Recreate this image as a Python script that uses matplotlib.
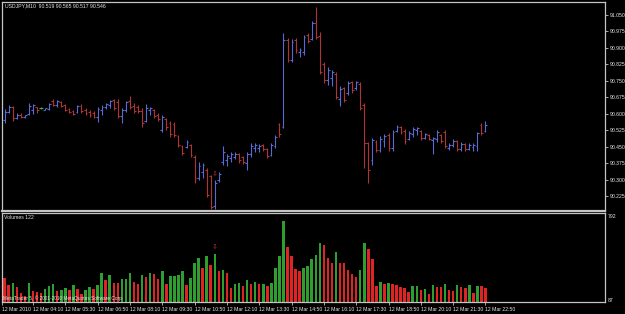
import matplotlib
import numpy as np

matplotlib.use('Agg')
import matplotlib.pyplot as plt

# USDJPY M10 bars, 12 Mar 2010 03:00 .. 22:50
opens = [
    90.571, 90.607, 90.630, 90.580, 90.593, 90.584, 90.598, 90.616, 90.630, 90.625,
    90.616, 90.621, 90.657, 90.639, 90.652, 90.639, 90.621, 90.611, 90.607, 90.634,
    90.616, 90.607, 90.602, 90.584, 90.616, 90.630, 90.639, 90.661, 90.652, 90.589,
    90.616, 90.657, 90.634, 90.630, 90.611, 90.566, 90.616, 90.616, 90.593, 90.525,
    90.575, 90.557, 90.552, 90.498, 90.452, 90.448, 90.457, 90.402, 90.307, 90.334,
    90.343, 90.316, 90.180, 90.298, 90.380, 90.389, 90.398, 90.402, 90.416, 90.402,
    90.375, 90.416, 90.443, 90.443, 90.457, 90.439, 90.412, 90.452, 90.552, 90.539,
    90.934, 90.843, 90.934, 90.880, 90.880, 90.957, 90.939, 91.011, 90.952, 90.825,
    90.752, 90.762, 90.780, 90.666, 90.716, 90.693, 90.743, 90.716, 90.734, 90.639,
    90.466, 90.389, 90.471, 90.434, 90.475, 90.502, 90.443, 90.521, 90.539, 90.521,
    90.484, 90.507, 90.525, 90.521, 90.489, 90.502, 90.480, 90.484, 90.502, 90.516,
    90.443, 90.457, 90.475, 90.439, 90.461, 90.439, 90.448, 90.452, 90.548, 90.519,
]
highs = [
    90.621, 90.639, 90.634, 90.602, 90.602, 90.593, 90.648, 90.643, 90.630, 90.630,
    90.625, 90.648, 90.666, 90.661, 90.657, 90.643, 90.625, 90.616, 90.639, 90.643,
    90.625, 90.616, 90.611, 90.630, 90.639, 90.648, 90.661, 90.666, 90.666, 90.625,
    90.657, 90.680, 90.648, 90.639, 90.625, 90.643, 90.630, 90.621, 90.602, 90.593,
    90.580, 90.566, 90.561, 90.502, 90.457, 90.480, 90.461, 90.412, 90.380, 90.375,
    90.352, 90.321, 90.298, 90.334, 90.452, 90.416, 90.425, 90.425, 90.421, 90.407,
    90.425, 90.466, 90.466, 90.461, 90.461, 90.443, 90.466, 90.502, 90.557, 90.966,
    90.943, 90.939, 90.943, 90.898, 90.957, 90.966, 91.021, 91.084, 90.971, 90.834,
    90.811, 90.798, 90.789, 90.725, 90.721, 90.748, 90.748, 90.748, 90.743, 90.648,
    90.471, 90.489, 90.480, 90.498, 90.507, 90.511, 90.525, 90.548, 90.543, 90.530,
    90.521, 90.539, 90.539, 90.525, 90.511, 90.507, 90.493, 90.525, 90.507, 90.525,
    90.466, 90.484, 90.480, 90.471, 90.466, 90.466, 90.466, 90.516, 90.557, 90.565,
]
lows = [
    90.557, 90.602, 90.566, 90.575, 90.580, 90.580, 90.593, 90.598, 90.602, 90.621,
    90.616, 90.616, 90.634, 90.630, 90.630, 90.611, 90.602, 90.593, 90.602, 90.602,
    90.593, 90.584, 90.580, 90.561, 90.593, 90.621, 90.625, 90.616, 90.580, 90.557,
    90.607, 90.621, 90.602, 90.602, 90.539, 90.561, 90.593, 90.580, 90.566, 90.516,
    90.525, 90.493, 90.493, 90.448, 90.412, 90.443, 90.402, 90.284, 90.298, 90.307,
    90.221, 90.166, 90.166, 90.289, 90.366, 90.361, 90.380, 90.393, 90.375, 90.371,
    90.343, 90.402, 90.425, 90.425, 90.430, 90.398, 90.407, 90.443, 90.493, 90.534,
    90.834, 90.834, 90.875, 90.857, 90.866, 90.921, 90.934, 90.939, 90.780, 90.739,
    90.730, 90.725, 90.666, 90.634, 90.652, 90.684, 90.693, 90.707, 90.616, 90.352,
    90.284, 90.366, 90.425, 90.425, 90.448, 90.430, 90.430, 90.516, 90.507, 90.461,
    90.480, 90.493, 90.502, 90.480, 90.484, 90.480, 90.416, 90.471, 90.466, 90.443,
    90.434, 90.448, 90.430, 90.430, 90.430, 90.434, 90.430, 90.430, 90.502, 90.517,
]
closes = [
    90.607, 90.630, 90.580, 90.593, 90.584, 90.593, 90.634, 90.639, 90.616, 90.625,
    90.625, 90.643, 90.639, 90.657, 90.634, 90.616, 90.607, 90.598, 90.634, 90.611,
    90.602, 90.593, 90.584, 90.621, 90.630, 90.643, 90.657, 90.625, 90.589, 90.616,
    90.652, 90.630, 90.611, 90.611, 90.557, 90.625, 90.625, 90.589, 90.575, 90.584,
    90.539, 90.507, 90.502, 90.457, 90.421, 90.471, 90.412, 90.307, 90.361, 90.366,
    90.230, 90.175, 90.284, 90.325, 90.425, 90.407, 90.416, 90.416, 90.389, 90.380,
    90.416, 90.452, 90.457, 90.452, 90.439, 90.407, 90.457, 90.493, 90.507, 90.934,
    90.843, 90.925, 90.889, 90.889, 90.948, 90.930, 91.011, 90.948, 90.789, 90.752,
    90.798, 90.789, 90.675, 90.711, 90.661, 90.739, 90.707, 90.743, 90.625, 90.466,
    90.343, 90.480, 90.434, 90.484, 90.498, 90.443, 90.516, 90.539, 90.516, 90.475,
    90.511, 90.530, 90.534, 90.489, 90.507, 90.484, 90.489, 90.516, 90.475, 90.452,
    90.457, 90.475, 90.439, 90.461, 90.439, 90.457, 90.457, 90.511, 90.511, 90.546,
]
volumes = [
    298, 235, 250, 217, 163, 142, 252, 183, 178, 165,
    200, 226, 244, 183, 191, 209, 191, 235, 200, 157,
    191, 217, 200, 235, 339, 278, 322, 252, 248, 287,
    290, 339, 261, 244, 322, 305, 339, 331, 287, 357,
    244, 313, 316, 322, 357, 235, 296, 426, 470, 383,
    487, 409, 505, 357, 365, 339, 209, 244, 252, 226,
    280, 244, 264, 241, 246, 229, 255, 385, 487, 792,
    568, 487, 377, 357, 380, 400, 461, 496, 600, 586,
    472, 429, 525, 429, 425, 365, 331, 302, 365, 603,
    551, 461, 224, 261, 244, 255, 244, 235, 217, 211,
    177, 224, 226, 194, 203, 159, 232, 220, 217, 244,
    194, 180, 232, 220, 206, 232, 165, 224, 222, 211,
]
price_ticks = [90.225, 90.300, 90.375, 90.450, 90.525, 90.600,
               90.675, 90.750, 90.825, 90.900, 90.975, 91.050]
time_labels = ['12 Mar 2010', '12 Mar 04:10', '12 Mar 05:30', '12 Mar 06:50',
               '12 Mar 08:10', '12 Mar 09:30', '12 Mar 10:50', '12 Mar 12:10',
               '12 Mar 13:30', '12 Mar 14:50', '12 Mar 16:10', '12 Mar 17:30',
               '12 Mar 18:50', '12 Mar 20:10', '12 Mar 21:30', '12 Mar 22:50']
signal_bar = 53

W, H = 625, 314
BLUE = '#5a6ad2'
RED = '#b03434'
DOJI = '#3cb043'
VOL_UP = '#2e9e2e'
VOL_DOWN = '#e02424'
FRAME = '#c4c4c4'
TEXT = '#e8e8e8'
FONT = 'Liberation Sans'
FS = 3.7


def px_box(left, top, right, bottom):
    return [left / W, 1 - bottom / H, (right - left) / W, (bottom - top) / H]


fig = plt.figure(figsize=(W / 100, H / 100), dpi=100, facecolor='black')
ax = fig.add_axes(px_box(2, 2, 605, 211), facecolor='black')
axv = fig.add_axes(px_box(2, 213, 605, 302), facecolor='black', sharex=ax)

x = np.arange(1, len(closes) + 1)
o, h, l, c = (np.array(a) for a in (opens, highs, lows, closes))
bar_colors = np.where(c > o, BLUE, np.where(c < o, RED, DOJI))
ax.vlines(x, l, h, colors=bar_colors, lw=0.8)
ax.hlines(o, x - 0.45, x, colors=bar_colors, lw=0.8)
ax.hlines(c, x, x + 0.45, colors=bar_colors, lw=0.8)

vol_colors = [VOL_DOWN] + [VOL_UP if b > a else VOL_DOWN for a, b in zip(volumes[:-1], volumes[1:])]
axv.bar(x, volumes, width=0.62, color=vol_colors, linewidth=0)

x_lo = 0.33
ax.set_xlim(x_lo, x_lo + 603 / 4.04)
ax.set_ylim(90.157, 91.107)
axv.set_ylim(87, 861)

ax.text(signal_bar, highs[signal_bar - 1] + 0.03, '\u21e9', color='#d03030', fontsize=5,
        ha='center', va='center', family='DejaVu Sans')
axv.text(signal_bar, volumes[signal_bar - 1] + 60, '\u21e9', color='#d03030', fontsize=5,
         ha='center', va='center', family='DejaVu Sans')

for a in (ax, axv):
    for side in a.spines.values():
        side.set_color(FRAME)
        side.set_linewidth(0.9)
ax.spines['bottom'].set_linewidth(1.6)

ax.yaxis.tick_right()
ax.set_yticks(price_ticks)
ax.set_yticklabels([f'{t:.3f}' for t in price_ticks], family=FONT)
ax.tick_params(axis='y', length=2, width=0.6, color=FRAME, labelcolor=TEXT, labelsize=FS, pad=1.5)
ax.tick_params(axis='x', bottom=False, labelbottom=False)

tick_pos = [max(8 * k, x_lo) for k in range(len(time_labels))]
axv.set_xticks(tick_pos)
axv.set_xticklabels(time_labels, ha='left', family=FONT)
axv.tick_params(axis='x', length=2.5, width=0.6, color=FRAME, labelcolor=TEXT, labelsize=FS, pad=1.2)
axv.tick_params(axis='y', left=False, labelleft=False)

fig.text(5 / W, 1 - 5.5 / H, 'USDJPY,M10  90.519 90.565 90.517 90.546', color=TEXT,
         fontsize=FS, family=FONT, va='center')
fig.text(4 / W, 1 - 217.5 / H, 'Volumes 122', color=TEXT, fontsize=FS, family=FONT, va='center')
fig.text(3 / W, 1 - 298.5 / H, 'MetaTrader 5, \u00a9 2001-2010 MetaQuotes Software Corp.',
         color=TEXT, fontsize=3.4, family=FONT, va='center', zorder=5)
fig.text(608 / W, 1 - 216 / H, '792', color=TEXT, fontsize=FS, family=FONT, va='center')
fig.text(608 / W, 1 - 300 / H, '87', color=TEXT, fontsize=FS, family=FONT, va='center')

fig.savefig('out.png', dpi=100, facecolor='black')
plt.close(fig)
